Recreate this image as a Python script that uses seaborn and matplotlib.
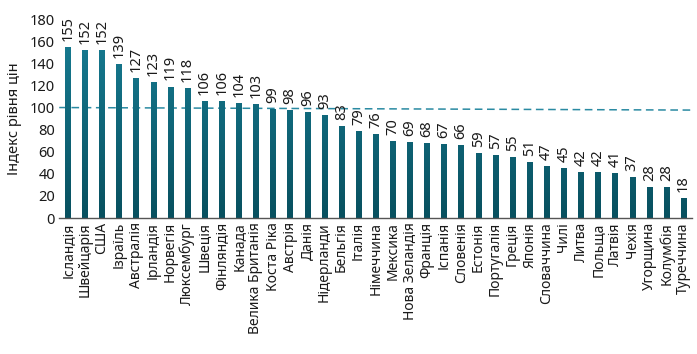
import numpy as np
import pandas as pd
import matplotlib
matplotlib.use("Agg")
import matplotlib.pyplot as plt
import seaborn as sns
from matplotlib.colors import LinearSegmentedColormap

countries = ["Ісландія", "Швейцарія", "США", "Ізраїль", "Австралія", "Ірландія",
             "Норвегія", "Люксембург", "Швеція", "Фінляндія", "Канада",
             "Велика Британія", "Коста Ріка", "Австрія", "Данія", "Нідерланди",
             "Бельгія", "Італія", "Німеччина", "Мексика", "Нова Зеландія",
             "Франція", "Іспанія", "Словенія", "Естонія", "Португалія", "Греція",
             "Японія", "Словаччина", "Чилі", "Литва", "Польща", "Латвія", "Чехія",
             "Угорщина", "Колумбія", "Туреччина"]
values = [155, 152, 152, 139, 127, 123, 119, 118, 106, 106, 104, 103, 99, 98, 96,
          93, 83, 79, 76, 70, 69, 68, 67, 66, 59, 57, 55, 51, 47, 45, 42, 42, 41,
          37, 28, 28, 18]
yticks = [0, 20, 40, 60, 80, 100, 120, 140, 160, 180]
ref_start, ref_end = 100, 97.7

sns.set_theme(style="white")
plt.rcParams['font.family'] = ['Noto Sans', 'DejaVu Sans']

df = pd.DataFrame({"country": countries, "value": values})
fig = plt.figure(figsize=(6.97, 3.54), dpi=100)
ax = fig.add_axes([0.085, 0.384, 0.908, 0.562])

sns.barplot(data=df, x="country", y="value", color="#136b80", width=0.32,
            saturation=1, ax=ax)

n = len(countries)
ax.set_xlim(-0.5, n - 0.5)
ax.set_ylim(0, 180)

# vertical gradient in bars
cmap = LinearSegmentedColormap.from_list("g", ["#08505f", "#187f96"])
grad = np.linspace(0, 1, 256).reshape(-1, 1)
for p in ax.patches:
    im = ax.imshow(grad, cmap=cmap, origin="lower", aspect="auto",
                   extent=[-0.5, n - 0.5, 0, 180], zorder=2)
    im.set_clip_path(p)
    p.set_facecolor("none")
    p.set_edgecolor("none")
ax.set_xlim(-0.5, n - 0.5)
ax.set_ylim(0, 180)

# reference line
ax.plot([-0.5, n - 0.5], [ref_start, ref_end], ls=(0, (5, 3)), color="#2a8aa2",
        lw=1.1, zorder=1)

for i, v in enumerate(values):
    ax.text(i, v + 5.5, str(v), rotation=90, ha="center", va="bottom",
            fontsize=10.5, color="#1a1a1a", clip_on=False)

ax.set_yticks(yticks)
ax.set_yticklabels([str(t) for t in yticks], fontsize=10.5, color="#1a1a1a")
ax.set_xticks(range(n))
ax.set_xticklabels(countries, rotation=90, fontsize=10, color="#1a1a1a")
ax.tick_params(axis="both", length=0, pad=3)
ax.set_xlabel("")
ax.set_ylabel("Індекс рівня цін", fontsize=10.5, color="#1a1a1a", labelpad=6)

for s in ["top", "right", "left"]:
    ax.spines[s].set_visible(False)
ax.spines["bottom"].set_color("#555555")
ax.spines["bottom"].set_linewidth(1.0)

fig.savefig("out.png", dpi=100)
